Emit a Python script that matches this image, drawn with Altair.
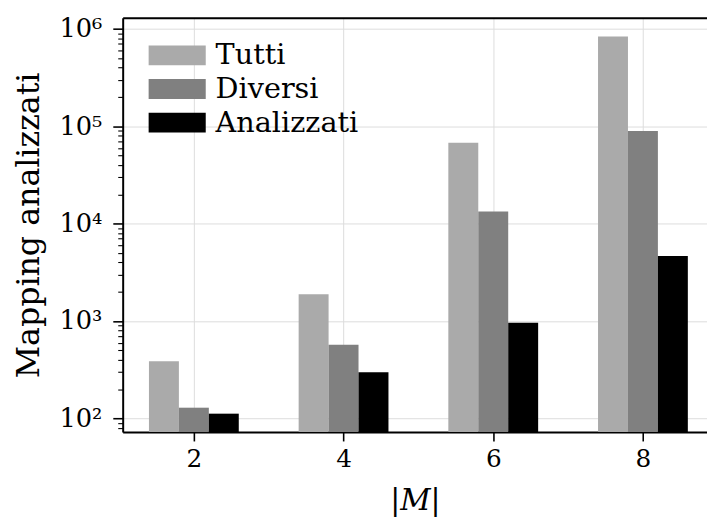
import altair as alt
import pandas as pd

# ---- data ----
M_values = [2, 4, 6, 8]
series_names = ["Tutti", "Diversi", "Analizzati"]
tutti = [386, 1880, 67800, 836000]
diversi = [129, 573, 13300, 89700]
analizzati = [112, 299, 961, 4660]
series_colors = ["#aaaaaa", "#808080", "#000000"]
y_min, y_max = 72.5, 1.3e6
x_min, x_max = 1.049, 8.856

y_tick_values = []
for e in range(1, 7):
    for m in range(1, 10):
        v = m * 10 ** e
        if y_min <= v <= y_max:
            y_tick_values.append(v)

rows = []
for idx, (name, vals) in enumerate(zip(series_names, [tutti, diversi, analizzati])):
    for m, v in zip(M_values, vals):
        rows.append({"M": m, "serie": name, "idx": idx, "value": v})
df = pd.DataFrame(rows)

FONT = "DejaVu Serif"

xscale = alt.Scale(domain=[x_min, x_max], nice=False, zero=False)
yscale = alt.Scale(type="log", domain=[y_min, y_max], nice=False)

is_dec = "abs(log(datum.value)/LN10 - round(log(datum.value)/LN10)) < 1e-6"

y_axis = alt.Axis(
    values=y_tick_values,
    title="Mapping analizzati",
    titleFont=FONT, titleFontSize=32, titleFontWeight="normal", titleColor="black",
    titlePadding=14,
    labelFont=FONT, labelFontSize=26, labelColor="black", labelPadding=11,
    labelOverlap=False, labelBound=False, labelFlush=False,
    labelExpr=f"({is_dec}) ? '10' + ['⁰','¹','²','³','⁴','⁵','⁶'][round(log(datum.value)/LN10)] : ''",
    tickSize={"condition": {"test": is_dec, "value": 10}, "value": 5},
    tickWidth={"condition": {"test": is_dec, "value": 1.6}, "value": 1.1},
    tickColor="black",
    gridOpacity={"condition": {"test": is_dec, "value": 1}, "value": 0},
    gridColor="#dddddd", gridWidth=1,
    domainColor="black", domainWidth=2,
)

x_axis = alt.Axis(
    values=M_values, format="d",
    title="|𝑀|",
    titleFont=FONT, titleFontSize=30, titleFontWeight="normal", titleColor="black",
    titlePadding=14,
    labelFont=FONT, labelFontSize=25, labelColor="black", labelPadding=6,
    tickSize=9, tickWidth=1.6, tickColor="black",
    grid=True, gridColor="#dddddd", gridWidth=1,
    domainColor="black", domainWidth=2,
)

base = alt.Chart(df).transform_calculate(
    x0="datum.M + (datum.idx - 1) * 0.4 - 0.2",
    x1="datum.M + (datum.idx - 1) * 0.4 + 0.2",
)

bars = base.mark_bar().encode(
    x=alt.X("x0:Q", scale=xscale, axis=x_axis),
    x2="x1:Q",
    y=alt.Y("value:Q", scale=yscale, axis=y_axis),
    y2=alt.datum(y_min),
    color=alt.Color(
        "serie:N",
        scale=alt.Scale(domain=series_names, range=series_colors),
        sort=series_names,
        legend=alt.Legend(
            title=None, orient="none", legendX=26, legendY=21,
            padding=0,
            labelFont=FONT, labelFontSize=29, labelColor="black",
            symbolType="M-1,-0.345L1,-0.345L1,0.345L-1,0.345Z",
            symbolSize=3364, symbolStrokeWidth=0, symbolOpacity=1,
            labelOffset=10, rowPadding=0, clipHeight=34,
        ),
    ),
)

top = base.mark_bar(opacity=0).encode(
    x=alt.X("x0:Q", scale=xscale, axis=alt.Axis(
        orient="top", labels=False, ticks=False, grid=False, title=None,
        domainColor="black", domainWidth=2)),
    x2="x1:Q",
    y=alt.Y("value:Q", scale=yscale, axis=y_axis),
    y2=alt.datum(y_min),
)

chart = alt.layer(bars, top).resolve_axis(x="independent", y="shared").properties(
    width=591, height=419,
    padding={"left": 4, "top": 5, "right": 0, "bottom": 0},
).configure_view(stroke=None).configure(background="white")

chart.save("out.html", embed_options={"renderer": "svg", "actions": False})
